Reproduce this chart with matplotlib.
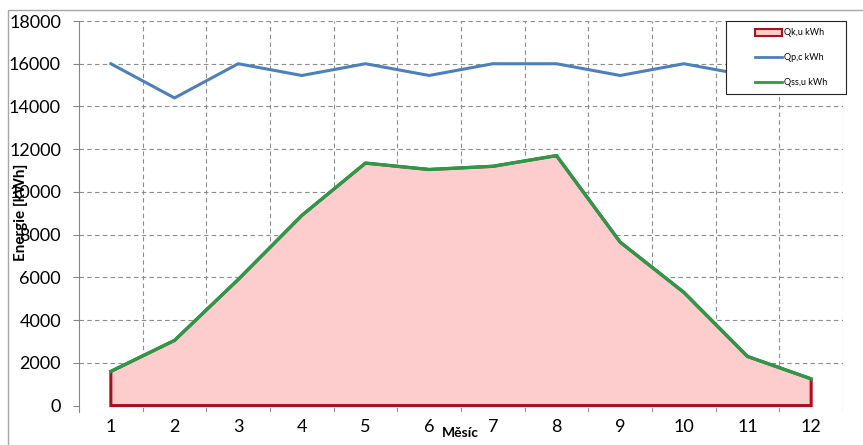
import matplotlib
matplotlib.use("Agg")
import matplotlib.pyplot as plt
from matplotlib.patches import Rectangle

# monthly energy balance
months = [1, 2, 3, 4, 5, 6, 7, 8, 9, 10, 11, 12]
q_ku = [1600, 3050, 5900, 8900, 11350, 11050, 11200, 11700, 7650, 5300, 2300, 1250]
q_pc = [16000, 14400, 16000, 15450, 16000, 15450, 16000, 16000, 15450, 16000, 15450, 16000]
q_ssu = [1600, 3050, 5900, 8900, 11350, 11050, 11200, 11700, 7650, 5300, 2300, 1250]
y_ticks = [0, 2000, 4000, 6000, 8000, 10000, 12000, 14000, 16000, 18000]

plt.rcParams["font.family"] = ["Lato", "DejaVu Sans"]

W, H = 863, 445
fig = plt.figure(figsize=(W / 100, H / 100), dpi=100)
ax = fig.add_axes([79 / W, 1 - 412 / H, (843 - 79) / W, (412 - 21) / H])

# light outer frame of the chart area
fig.patches.append(Rectangle((8 / W, -0.1), 1.2, 1 - 10 / H + 0.1,
                             transform=fig.transFigure, fill=False,
                             edgecolor="#a6a6a6", linewidth=1.0))

# Qk,u as filled area, with closed edges down to zero
xs = [months[0]] + months + [months[-1]]
ys = [0] + q_ku + [0]
ax.fill(xs, ys, facecolor="#fdcdcd", edgecolor="#a8101c", linewidth=2.2,
        zorder=2)
ax.plot(months, q_pc, color="#4f7fba", linewidth=2.2, zorder=3)
ax.plot(months, q_ssu, color="#2b9a48", linewidth=2.4, zorder=4)

ax.set_xlim(0.5, 12.5)
ax.set_ylim(-300, 18000)
ax.set_yticks(y_ticks)
ax.set_xticks(months)
ax.tick_params(axis="y", labelsize=13, length=4, color="#868686", pad=9)
ax.tick_params(axis="x", labelsize=13, length=0, pad=5)

# category boundaries as dashed vertical grid lines
for b in range(1, 13):
    ax.axvline(b + 0.5, color="#8c8c8c", linestyle=(0, (4, 3)), linewidth=0.8,
               zorder=1)
for t in y_ticks[1:]:
    ax.axhline(t, color="#8c8c8c", linestyle=(0, (4, 3)), linewidth=0.8,
               zorder=1)

for side in ("top", "right", "bottom"):
    ax.spines[side].set_visible(False)
ax.spines["left"].set_color("#868686")

fig.text(460 / W, 1 - 433 / H, "Měsíc", fontsize=10, fontweight="bold",
         ha="center", va="center")
fig.text(21 / W, 1 - 212 / H, "Energie [kWh]", fontsize=11,
         fontweight="bold", rotation=90, ha="center", va="center")

# legend box in the top right corner
lx0, ly0, lx1, ly1 = 726, 21, 846, 94
fig.patches.append(Rectangle((lx0 / W, 1 - ly1 / H), (lx1 - lx0) / W,
                             (ly1 - ly0) / H, transform=fig.transFigure,
                             facecolor="white", edgecolor="#222222",
                             linewidth=0.8, zorder=5))
handles = [
    Rectangle((0, 0), 1, 1, facecolor="#fdcdcd", edgecolor="#a8101c",
              linewidth=1.5),
    plt.Line2D([], [], color="#4f7fba", linewidth=2.0),
    plt.Line2D([], [], color="#2b9a48", linewidth=2.0),
]
leg = fig.legend(handles, ["Qk,u kWh", "Qp,c kWh", "Qss,u kWh"],
                 loc="center",
                 bbox_to_anchor=((lx0 + lx1) / 2 / W + 0.006,
                                 1 - (ly0 + ly1) / 2 / H),
                 fontsize=6.5, frameon=False, handlelength=3.0,
                 handleheight=0.8, labelspacing=1.75, borderpad=0.0,
                 handletextpad=0.2)
leg.set_zorder(6)

fig.savefig("out.png", dpi=100)
